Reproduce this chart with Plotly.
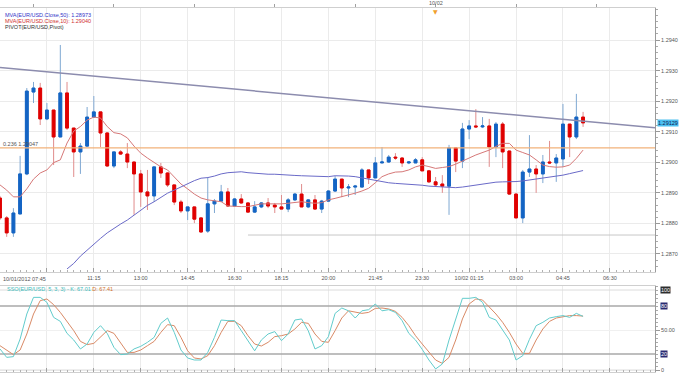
import pandas as pd
import plotly.graph_objects as go

# ---------------- data ----------------
times = pd.date_range("2012-10-01 07:45", periods=88, freq="15min")

open_ = [1.28883, 1.28818, 1.28769, 1.28831, 1.28962, 1.29230, 1.29243, 1.29142, 1.29171, 1.29083,
         1.29227, 1.29112, 1.29034, 1.29053, 1.29148, 1.29165, 1.29096, 1.28988, 1.29034, 1.29027,
         1.29001, 1.28962, 1.28903, 1.28890, 1.28985, 1.28965, 1.28926, 1.28870, 1.28841, 1.28854,
         1.28818, 1.28775, 1.28864, 1.28873, 1.28903, 1.28857, 1.28880, 1.28867, 1.28837, 1.28854,
         1.28867, 1.28860, 1.28854, 1.28847, 1.28877, 1.28896, 1.28854, 1.28877, 1.28847, 1.28873,
         1.28906, 1.28945, 1.28916, 1.28919, 1.28919, 1.28975, 1.28949, 1.28998, 1.29001, 1.29017,
         1.29014, 1.28998, 1.28998, 1.29008, 1.28972, 1.28936, 1.28929, 1.28922, 1.29047, 1.29004,
         1.29109, 1.29119, 1.29116, 1.29119, 1.29050, 1.29125, 1.29037, 1.28896, 1.28818, 1.28968,
         1.28978, 1.28962, 1.29001, 1.28998, 1.29011, 1.29125, 1.29083, 1.29148]
high = [1.28890, 1.28824, 1.28850, 1.29021, 1.29243, 1.29263, 1.29260, 1.29194, 1.29171, 1.29384,
        1.29263, 1.29112, 1.29063, 1.29181, 1.29217, 1.29165, 1.29099, 1.29034, 1.29040, 1.29063,
        1.29001, 1.28975, 1.28975, 1.28985, 1.28998, 1.28968, 1.28926, 1.28877, 1.28854, 1.28854,
        1.28821, 1.28952, 1.28880, 1.28926, 1.28916, 1.28883, 1.28896, 1.28870, 1.28873, 1.28870,
        1.28883, 1.28867, 1.28893, 1.28883, 1.28900, 1.28929, 1.28880, 1.28893, 1.28877, 1.28909,
        1.28955, 1.28945, 1.28929, 1.28926, 1.28981, 1.28975, 1.29017, 1.29050, 1.29024, 1.29030,
        1.29017, 1.29004, 1.29014, 1.29017, 1.28975, 1.28952, 1.28958, 1.29057, 1.29047, 1.29129,
        1.29138, 1.29174, 1.29148, 1.29142, 1.29132, 1.29132, 1.29037, 1.28900, 1.28975, 1.29089,
        1.28991, 1.29024, 1.29070, 1.29027, 1.29191, 1.29125, 1.29224, 1.29165]
low = [1.28811, 1.28756, 1.28756, 1.28831, 1.28958, 1.29194, 1.29122, 1.29138, 1.28991, 1.29083,
       1.29106, 1.28952, 1.28962, 1.29050, 1.29148, 1.29050, 1.28985, 1.28981, 1.29024, 1.28981,
       1.28828, 1.28854, 1.28844, 1.28870, 1.28949, 1.28919, 1.28860, 1.28834, 1.28811, 1.28801,
       1.28769, 1.28769, 1.28834, 1.28870, 1.28854, 1.28854, 1.28864, 1.28834, 1.28834, 1.28850,
       1.28850, 1.28834, 1.28847, 1.28837, 1.28873, 1.28854, 1.28850, 1.28844, 1.28834, 1.28870,
       1.28903, 1.28886, 1.28886, 1.28893, 1.28919, 1.28929, 1.28949, 1.28998, 1.28998, 1.29008,
       1.28985, 1.28994, 1.28998, 1.28972, 1.28932, 1.28922, 1.28900, 1.28828, 1.28968, 1.28981,
       1.29076, 1.29112, 1.29112, 1.28985, 1.29017, 1.28981, 1.28893, 1.28818, 1.28801, 1.28952,
       1.28900, 1.28932, 1.28994, 1.28936, 1.28985, 1.29017, 1.29076, 1.29116]
close = [1.28818, 1.28769, 1.28834, 1.28962, 1.29233, 1.29243, 1.29142, 1.29171, 1.29083, 1.29227,
         1.29112, 1.29034, 1.29053, 1.29148, 1.29165, 1.29096, 1.28988, 1.29034, 1.29027, 1.29001,
         1.28962, 1.28903, 1.28890, 1.28985, 1.28965, 1.28926, 1.28870, 1.28841, 1.28854, 1.28814,
         1.28772, 1.28864, 1.28873, 1.28903, 1.28857, 1.28880, 1.28867, 1.28837, 1.28854, 1.28867,
         1.28857, 1.28854, 1.28847, 1.28877, 1.28896, 1.28854, 1.28877, 1.28847, 1.28873, 1.28906,
         1.28945, 1.28916, 1.28919, 1.28922, 1.28975, 1.28949, 1.28998, 1.29001, 1.29017, 1.29014,
         1.28998, 1.29001, 1.29008, 1.28972, 1.28936, 1.28926, 1.28922, 1.29047, 1.29004, 1.29109,
         1.29119, 1.29116, 1.29119, 1.29050, 1.29125, 1.29034, 1.28896, 1.28818, 1.28968, 1.28978,
         1.28962, 1.29001, 1.28998, 1.29014, 1.29125, 1.29083, 1.29148, 1.29129]

ma10 = [1.28926, 1.28909, 1.28887, 1.28887, 1.28913, 1.28945, 1.28965, 1.28975, 1.28999, 1.29008,
        1.29063, 1.29102, 1.29117, 1.29138, 1.29148, 1.29145, 1.29117, 1.29097, 1.29093, 1.29080,
        1.29053, 1.29030, 1.29014, 1.28998, 1.28985, 1.28975, 1.28953, 1.28929, 1.28913, 1.28896,
        1.28883, 1.28877, 1.28874, 1.28871, 1.28857, 1.28855, 1.28855, 1.28855, 1.28859, 1.28864,
        1.28864, 1.28863, 1.28864, 1.28866, 1.28868, 1.28871, 1.28868, 1.28866, 1.28868, 1.28877,
        1.28882, 1.28887, 1.28893, 1.28899, 1.28906, 1.28915, 1.28933, 1.28953, 1.28962, 1.28968,
        1.28969, 1.28975, 1.28985, 1.28991, 1.28986, 1.28980, 1.28983, 1.28986, 1.28994, 1.29005,
        1.29014, 1.29024, 1.29032, 1.29040, 1.29052, 1.29062, 1.29062, 1.29040, 1.29032, 1.29024,
        1.29008, 1.28991, 1.28986, 1.28984, 1.28985, 1.28991, 1.29013, 1.29040]

ma50 = [None] * 10 + [
        1.28651, 1.28669, 1.28693, 1.28713, 1.28733, 1.28751, 1.28769, 1.28784, 1.28798, 1.28811,
        1.28828, 1.28844, 1.28859, 1.28871, 1.28885, 1.28899, 1.28909, 1.28920, 1.28931, 1.28940,
        1.28948, 1.28950, 1.28955, 1.28962, 1.28966, 1.28968, 1.28969, 1.28966, 1.28964, 1.28962,
        1.28961, 1.28961, 1.28959, 1.28958, 1.28957, 1.28956, 1.28955, 1.28953, 1.28953, 1.28953,
        1.28956, 1.28956, 1.28955, 1.28953, 1.28949, 1.28944, 1.28940, 1.28936, 1.28933, 1.28931,
        1.28930, 1.28929, 1.28927, 1.28925, 1.28922, 1.28921, 1.28919, 1.28918, 1.28917, 1.28919,
        1.28922, 1.28926, 1.28929, 1.28933, 1.28935, 1.28936, 1.28936, 1.28937, 1.28939, 1.28942,
        1.28944, 1.28947, 1.28951, 1.28955, 1.28958, 1.28963, 1.28968, 1.28973]

stoch_k = [26.3, 15.8, 16.7, 38.7, 70.0, 90.8, 90.8, 84.6, 65.8, 60.8,
           45.8, 37.5, 26.3, 32.5, 47.0, 55.4, 45.8, 28.3, 19.2, 20.0,
           26.3, 29.6, 34.6, 40.8, 58.3, 65.0, 47.0, 25.0, 15.0, 12.5,
           12.5, 22.0, 40.8, 62.5, 61.7, 61.7, 49.2, 35.8, 24.0, 37.5,
           45.0, 48.0, 36.7, 45.0, 62.5, 63.8, 49.0, 26.3, 30.4, 41.7,
           70.8, 77.5, 74.0, 65.0, 74.0, 75.4, 82.5, 74.0, 75.4, 72.0,
           61.7, 45.8, 37.5, 25.8, 12.5, 1.3, 7.5, 37.5, 63.8, 89.6,
           89.6, 90.8, 84.6, 65.8, 62.5, 49.2, 37.5, 12.5, 17.9, 38.3,
           55.4, 59.6, 65.0, 66.7, 68.0, 65.8, 70.8, 67.0]
stoch_d = [30.4, 25.0, 19.2, 25.0, 45.0, 70.0, 86.7, 88.8, 81.7, 72.0,
           60.8, 49.2, 35.8, 31.7, 33.3, 41.7, 49.2, 45.8, 33.3, 22.0,
           22.0, 25.0, 30.4, 35.8, 47.0, 56.7, 55.4, 40.8, 24.0, 15.0,
           13.8, 17.9, 30.4, 47.0, 60.8, 60.8, 55.4, 42.9, 32.5, 30.0,
           34.6, 41.7, 42.9, 45.0, 51.3, 59.6, 58.3, 45.0, 35.8, 34.6,
           49.2, 65.0, 74.0, 72.0, 70.8, 72.0, 77.0, 77.5, 76.3, 73.3,
           65.8, 55.4, 42.9, 32.5, 22.0, 12.5, 8.3, 15.8, 37.5, 63.8,
           82.5, 88.8, 87.5, 79.2, 70.0, 59.6, 47.0, 32.5, 20.8, 20.8,
           37.5, 51.3, 60.8, 65.0, 66.7, 68.0, 68.0, 67.4]

fib_level = 1.29047
support_level = 1.28762
support_start = "2012-10-01 17:00"
trend_x = ["2012-10-01 07:45", "2012-10-02 08:11"]
trend_y = [1.29310, 1.29113]

stoch_levels = [20, 80]
stoch_bounds = [0, 100]

x_start = "2012-10-01 07:45"
x_end = "2012-10-02 08:11"
tick_vals = pd.date_range("2012-10-01 07:45", "2012-10-02 06:30", freq="105min")
tick_text = ["", "", "11:15", "13:00", "14:45", "16:30", "18:15", "20:00",
             "21:45", "23:30", "10/02 01:15", "03:00", "04:45", "06:30"]
top_ticks = pd.date_range("2012-10-01 09:00", "2012-10-02 06:00", freq="3h")
price_ticks = [1.2870, 1.2880, 1.2890, 1.2900, 1.2910, 1.2920, 1.2930, 1.2940]

# ---------------- styling ----------------
FONT = "Liberation Sans"
W, H = 680, 374
R_EDGE = 655 / W


def py(px):
    return 1 - px / H


BLUE, RED = "#1464c4", "#e00000"
BLUE_W, RED_W = "#7fa8d2", "#e08c8c"

fig = go.Figure()

# wicks
fig.add_trace(go.Candlestick(
    x=times, open=open_, high=high, low=low, close=close,
    increasing=dict(line=dict(color=BLUE_W, width=1), fillcolor=BLUE_W),
    decreasing=dict(line=dict(color=RED_W, width=1), fillcolor=RED_W),
    whiskerwidth=0, showlegend=False, hoverinfo="skip", xaxis="x", yaxis="y"))
# bodies
body_hi = [max(o, c) for o, c in zip(open_, close)]
body_lo = [min(o, c) for o, c in zip(open_, close)]
fig.add_trace(go.Candlestick(
    x=times, open=open_, high=body_hi, low=body_lo, close=close,
    increasing=dict(line=dict(color=BLUE, width=1), fillcolor=BLUE),
    decreasing=dict(line=dict(color=RED, width=1), fillcolor=RED),
    whiskerwidth=0, showlegend=False, xaxis="x", yaxis="y"))

fig.add_trace(go.Scatter(x=times, y=ma10, mode="lines",
                         line=dict(color="#d67878", width=1), showlegend=False))
fig.add_trace(go.Scatter(x=times, y=ma50, mode="lines",
                         line=dict(color="#6a6ac8", width=1), showlegend=False))
fig.add_trace(go.Scatter(x=trend_x, y=trend_y, mode="lines",
                         line=dict(color="#8c8cae", width=1.5), showlegend=False))
fig.add_trace(go.Scatter(x=[x_start, x_end], y=[fib_level, fib_level], mode="lines",
                         line=dict(color="#f2b27a", width=1.2), showlegend=False))
fig.add_trace(go.Scatter(x=[support_start, x_end], y=[support_level, support_level], mode="lines",
                         line=dict(color="#c8c8c8", width=1), showlegend=False))

# dummy for the top axis
fig.add_trace(go.Scatter(x=[times[0]], y=[close[0]], mode="markers", marker=dict(opacity=0),
                         xaxis="x3", yaxis="y", hoverinfo="skip", showlegend=False))

# stochastic
for lv in stoch_bounds:
    fig.add_trace(go.Scatter(x=[x_start, x_end], y=[lv, lv], mode="lines", xaxis="x2", yaxis="y2",
                             line=dict(color="#dcdcdc", width=1), showlegend=False))
for lv in stoch_levels:
    fig.add_trace(go.Scatter(x=[x_start, x_end], y=[lv, lv], mode="lines", xaxis="x2", yaxis="y2",
                             line=dict(color="#a8a8a8", width=1.5), showlegend=False))
fig.add_trace(go.Scatter(x=times, y=stoch_d, mode="lines", xaxis="x2", yaxis="y2",
                         line=dict(color="#d98a66", width=1), showlegend=False))
fig.add_trace(go.Scatter(x=times, y=stoch_k, mode="lines", xaxis="x2", yaxis="y2",
                         line=dict(color="#62cccc", width=1), showlegend=False))

small = dict(family=FONT, size=5.5, color="#555555")

xcommon = dict(type="date", range=[x_start, x_end], domain=[0, R_EDGE],
               tickvals=list(tick_vals), showgrid=True, gridcolor="#ebebeb", gridwidth=1,
               ticks="inside", ticklen=4, tickcolor="#a0a0a0",
               showline=True, linecolor="#cfcfcf", linewidth=1, mirror=True,
               minor=dict(dtick=900000, tick0=x_start, ticks="inside", ticklen=2,
                          tickcolor="#b0b0b0", showgrid=False),
               zeroline=False, fixedrange=True)

fig.update_layout(
    width=W, height=H, margin=dict(l=0, r=0, t=0, b=0),
    paper_bgcolor="white", plot_bgcolor="white", boxgap=0.4,
    font=small, showlegend=False, hovermode=False,
    xaxis=dict(**xcommon, anchor="y", ticktext=tick_text, tickfont=small,
               rangeslider=dict(visible=False)),
    xaxis2=dict(**xcommon, anchor="y2", matches="x", showticklabels=False),
    xaxis3=dict(type="date", range=[x_start, x_end], domain=[0, R_EDGE], overlaying="x",
                side="top", anchor="y", tickvals=list(top_ticks),
                ticktext=[""] * len(top_ticks), ticks="outside", ticklen=3,
                tickcolor="#a0a0a0", showgrid=False, showline=True, linecolor="#cfcfcf",
                zeroline=False),
    yaxis=dict(domain=[py(272), py(8)], range=[1.28641, 1.29505], side="right",
               anchor="x", tickvals=price_ticks, tickformat=".4f", tickfont=small,
               showgrid=True, gridcolor="#ebebeb", ticks="outside", ticklen=4,
               tickcolor="#999999", showline=True, linecolor="#9a9a9a", zeroline=False,
               minor=dict(dtick=0.0002, ticks="outside", ticklen=2, tickcolor="#aaaaaa",
                          showgrid=False)),
    yaxis2=dict(domain=[py(372), py(286)], range=[-2.5, 105], side="right", anchor="x2",
                tickvals=[0, 50], ticktext=["0", "50.00"], tickfont=small,
                showgrid=True, gridcolor="#f0f0f0", ticks="outside", ticklen=4,
                tickcolor="#999999", showline=True, linecolor="#9a9a9a", zeroline=False,
                minor=dict(dtick=5, ticks="outside", ticklen=2, tickcolor="#aaaaaa",
                           showgrid=False)),
)

ann = []
ann.append(dict(x=0.004, y=py(15), xref="paper", yref="paper", xanchor="left", yanchor="middle",
                text="MVA(EUR/USD.Close,50): 1.28973", showarrow=False,
                font=dict(family=FONT, size=5.5, color="#3434c8")))
ann.append(dict(x=0.004, y=py(21), xref="paper", yref="paper", xanchor="left", yanchor="middle",
                text="MVA(EUR/USD.Close,10): 1.29040", showarrow=False,
                font=dict(family=FONT, size=5.5, color="#d03030")))
ann.append(dict(x=0.004, y=py(27), xref="paper", yref="paper", xanchor="left", yanchor="middle",
                text="PIVOT(EUR/USD,Pivot)", showarrow=False,
                font=dict(family=FONT, size=5.5, color="#333333")))
ann.append(dict(x=0.002, y=fib_level, xref="paper", yref="y", xanchor="left", yanchor="bottom",
                text="0.236 1.29047", showarrow=False, yshift=-1,
                font=dict(family=FONT, size=5.5, color="#555555")))
ann.append(dict(x=x_start, y=py(279), xref="x", yref="paper", xanchor="left", yanchor="middle",
                text="10/01/2012 07:45", showarrow=False, xshift=1,
                font=dict(family=FONT, size=5.5, color="#555555")))
ann.append(dict(x="2012-10-02 00:00", y=py(3), xref="x", yref="paper", xanchor="center",
                yanchor="middle", text="10/02", showarrow=False,
                font=dict(family=FONT, size=5.5, color="#555555")))
ann.append(dict(x="2012-10-02 00:00", y=py(11), xref="x", yref="paper", xanchor="center",
                yanchor="middle", text="▼", showarrow=False,
                font=dict(family="DejaVu Sans", size=6, color="#f0a030")))
ann.append(dict(x=0.008, y=py(288.5), xref="paper", yref="paper", xanchor="left", yanchor="middle",
                text="<span style='color:#3cbcbc'>SSO(EUR/USD, 5, 3, 3) - K: 67.01</span>"
                     " <span style='color:#d2722e'>D: 67.41</span>",
                showarrow=False, font=dict(family=FONT, size=5.5)))
ann.append(dict(x=657 / W, y=close[-1], xref="paper", yref="y", xanchor="left", yanchor="middle",
                text="1.29129", showarrow=False, bgcolor="#4cc0f0", borderpad=0,
                font=dict(family=FONT, size=5.5, color="#102050")))
ann.append(dict(x=660 / W, y=100, xref="paper", yref="y2", xanchor="left", yanchor="middle",
                text="100", showarrow=False, bgcolor="#2e2e2e", borderpad=0,
                font=dict(family=FONT, size=5.5, color="#ffffff")))
for lv in stoch_levels:
    ann.append(dict(x=660 / W, y=lv, xref="paper", yref="y2", xanchor="left", yanchor="middle",
                    text=str(lv), showarrow=False, bgcolor="#2a2a70", borderpad=0,
                    font=dict(family=FONT, size=5.5, color="#ffffff")))
fig.update_layout(annotations=ann)

fig.write_html("out.html", config={"displayModeBar": False},
               post_script="document.body.style.margin='0';document.body.style.overflow='hidden';")
